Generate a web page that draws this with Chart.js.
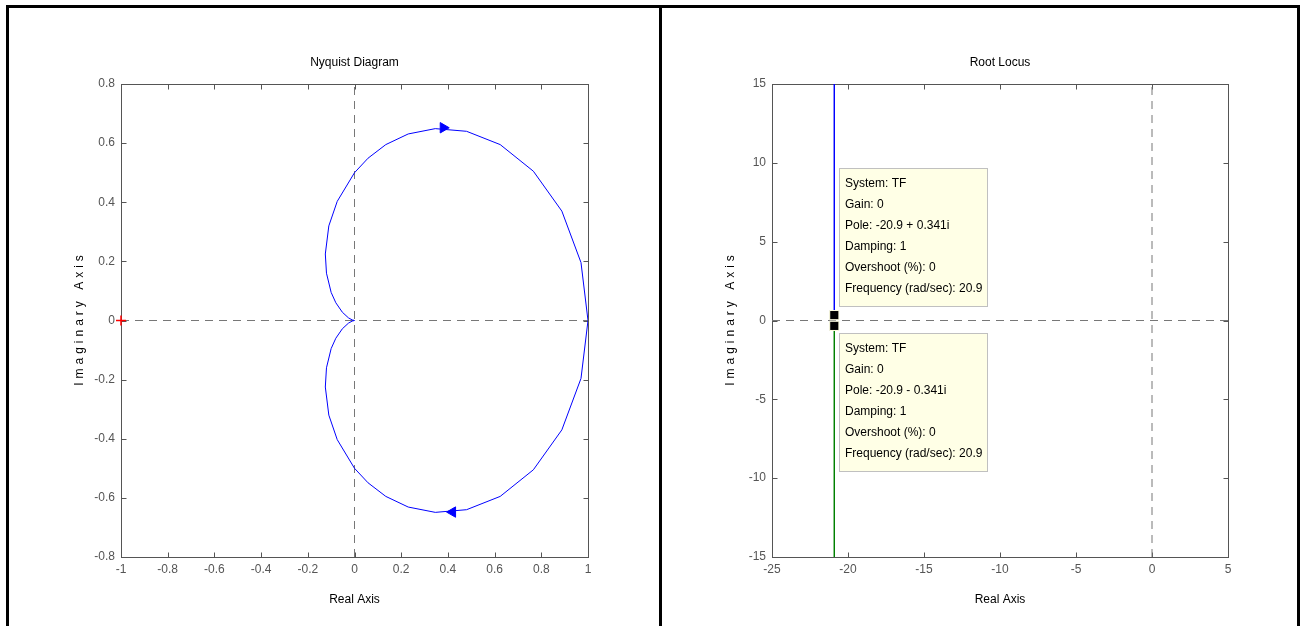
<!DOCTYPE html>
<html>
<head>
<meta charset="utf-8">
<script src="https://cdn.jsdelivr.net/npm/chart.js@4.4.1/dist/chart.umd.min.js"></script>
<style>
    body { margin: 0; background: #fff; width: 1302px; height: 626px; overflow: hidden; position: relative; }
    .frame { position: absolute; left: 6px; top: 5px; width: 1288px; height: 700px; border: 3px solid #000; z-index: 2; pointer-events: none; }
    .divider { position: absolute; left: 659px; top: 5px; width: 3px; height: 700px; background: #000; z-index: 2; }
    #leftBox { position: absolute; left: 0; top: 0; width: 661px; height: 626px; }
    #rightBox { position: absolute; left: 661px; top: 0; width: 641px; height: 626px; }
</style>
</head>
<body>
<div class="frame"></div>
<div class="divider"></div>
<div id="leftBox"><canvas id="nyquistChart"></canvas></div>
<div id="rightBox"><canvas id="locusChart"></canvas></div>
<script>
// Nyquist curve (real / imaginary parts)
const nyqReal = [0, -0.010, -0.026, -0.052, -0.080, -0.100, -0.120, -0.125, -0.110, -0.074, 0, 0.058, 0.134, 0.230, 0.346, 0.480, 0.624, 0.766, 0.888, 0.970, 1,
                 0.970, 0.888, 0.766, 0.624, 0.480, 0.346, 0.230, 0.134, 0.058, 0, -0.074, -0.110, -0.125, -0.120, -0.100, -0.080, -0.052, -0.026, -0.010, 0];
const nyqImag = [0, 0.002, 0.009, 0.028, 0.060, 0.095, 0.160, 0.225, 0.320, 0.403, 0.500, 0.549, 0.595, 0.631, 0.649, 0.640, 0.595, 0.505, 0.370, 0.196, 0,
                 -0.196, -0.370, -0.505, -0.595, -0.640, -0.649, -0.631, -0.595, -0.549, -0.500, -0.403, -0.320, -0.225, -0.160, -0.095, -0.060, -0.028, -0.009, -0.002, 0];
const arrowReal = [0.38, 0.42];
const arrowImag = [0.652, -0.648];
const arrowAngle = [90, 270];
const criticalReal = [-1];
const criticalImag = [0];
const nyqXTicks = [-1, -0.8, -0.6, -0.4, -0.2, 0, 0.2, 0.4, 0.6, 0.8, 1];
const nyqYTicks = [-0.8, -0.6, -0.4, -0.2, 0, 0.2, 0.4, 0.6, 0.8];

// Root locus
const locusReal = -20.9;
const poleImag = [0.341, -0.341];
const upperBranchImag = [15, 0.341];
const lowerBranchImag = [-0.341, -15];
const rlXTicks = [-25, -20, -15, -10, -5, 0, 5];
const rlYTicks = [-15, -10, -5, 0, 5, 10, 15];
const upperTip = ['System: TF', 'Gain: 0', 'Pole: -20.9 + 0.341i', 'Damping: 1', 'Overshoot (%): 0', 'Frequency (rad/sec): 20.9'];
const lowerTip = ['System: TF', 'Gain: 0', 'Pole: -20.9 - 0.341i', 'Damping: 1', 'Overshoot (%): 0', 'Frequency (rad/sec): 20.9'];

const FONT = "'Liberation Sans', Arial, sans-serif";
const pts = (xs, ys) => xs.map((v, i) => ({ x: v, y: ys[i] }));

// matlab style box with inward ticks (under the data) and the titles
const matlabAxes = {
    id: 'matlabAxes',
    beforeDatasetsDraw(chart) {
        const { ctx, chartArea: a, scales: { x, y } } = chart;
        ctx.save();
        ctx.strokeStyle = '#555';
        ctx.lineWidth = 1;
        const L = Math.round(a.left) + 0.5, R = Math.round(a.right) + 0.5;
        const T = Math.round(a.top) + 0.5, B = Math.round(a.bottom) + 0.5;
        ctx.strokeRect(L, T, R - L, B - T);
        ctx.beginPath();
        x.ticks.forEach(t => {
            const px = Math.round(x.getPixelForValue(t.value)) + 0.5;
            ctx.moveTo(px, B); ctx.lineTo(px, B - 5);
            ctx.moveTo(px, T); ctx.lineTo(px, T + 5);
        });
        y.ticks.forEach(t => {
            const py = Math.round(y.getPixelForValue(t.value)) + 0.5;
            ctx.moveTo(L, py); ctx.lineTo(L + 5, py);
            ctx.moveTo(R, py); ctx.lineTo(R - 5, py);
        });
        ctx.stroke();
        ctx.restore();
    },
    afterDraw(chart, args, opts) {
        const { ctx, chartArea: a } = chart;
        ctx.save();
        ctx.fillStyle = '#000';
        ctx.font = '12px ' + FONT;
        ctx.textAlign = 'center';
        ctx.textBaseline = 'middle';
        const cx = (a.left + a.right) / 2;
        ctx.fillText(opts.title, cx, a.top - 21);
        ctx.fillText(opts.xTitle, cx, a.bottom + 43);
        ctx.translate(a.left - 41, (a.top + a.bottom) / 2);
        ctx.rotate(-Math.PI / 2);
        ctx.letterSpacing = '4px';
        ctx.fillText(opts.yTitle, 2, 0);
        ctx.restore();
    }
};

// data tip boxes next to the poles
const dataTips = {
    id: 'dataTips',
    afterDraw(chart, args, opts) {
        if (!opts.tips) return;
        const { ctx, scales: { x, y } } = chart;
        ctx.save();
        ctx.font = '12px ' + FONT;
        ctx.textAlign = 'left';
        ctx.textBaseline = 'middle';
        opts.tips.forEach(tip => {
            const px = Math.round(x.getPixelForValue(tip.x));
            const py = Math.round(y.getPixelForValue(tip.y));
            const w = 149, h = 139;
            const left = px + 5;
            const top = tip.above ? py - 8 - h : py + 7;
            ctx.fillStyle = '#ffffe6';
            ctx.fillRect(left, top, w, h);
            ctx.strokeStyle = '#c0c0c0';
            ctx.strokeRect(left + 0.5, top + 0.5, w - 1, h - 1);
            ctx.fillStyle = '#000';
            tip.lines.forEach((s, k) => ctx.fillText(s, left + 6, top + 16 + k * 21));
        });
        ctx.restore();
    }
};

const makeScales = (xMin, xMax, xTicks, yMin, yMax, yTicks, yWidth) => ({
    x: {
        type: 'linear', min: xMin, max: xMax,
        afterBuildTicks: s => { s.ticks = xTicks.map(v => ({ value: v })); },
        afterFit: s => { s.height = 69; },
        grid: { display: false, drawTicks: false },
        border: { display: false },
        ticks: { color: '#555', font: { family: FONT, size: 12 }, padding: 5, maxRotation: 0, autoSkip: false, callback: v => String(v) }
    },
    y: {
        type: 'linear', min: yMin, max: yMax,
        afterBuildTicks: s => { s.ticks = yTicks.map(v => ({ value: v })); },
        afterFit: s => { s.width = yWidth; },
        grid: { display: false, drawTicks: false },
        border: { display: false },
        ticks: { color: '#555', font: { family: FONT, size: 12 }, padding: 6, autoSkip: false, callback: v => String(v) }
    }
});

const baseOptions = {
    responsive: true,
    maintainAspectRatio: false,
    animation: false,
    elements: { point: { radius: 0 }, line: { tension: 0 } }
};

new Chart(document.getElementById('nyquistChart'), {
    type: 'scatter',
    data: {
        datasets: [
            {
                data: pts(arrowReal, arrowImag),
                pointStyle: 'triangle',
                pointRadius: 6,
                rotation: arrowAngle,
                backgroundColor: '#0000ff',
                borderColor: '#0000ff',
                borderWidth: 1
            },
            {
                data: pts(criticalReal, criticalImag),
                pointStyle: 'cross',
                pointRadius: 5,
                borderColor: '#ff0000',
                borderWidth: 1.5,
                clip: 10
            },
            {
                data: pts(nyqReal, nyqImag),
                showLine: true,
                borderColor: '#0000ff',
                borderWidth: 1,
                pointRadius: 0
            },
            {
                data: pts([nyqXTicks[0], nyqXTicks[nyqXTicks.length - 1]], [0, 0]),
                showLine: true, borderColor: '#777', borderWidth: 1, borderDash: [8, 6], pointRadius: 0
            },
            {
                data: pts([0, 0], [nyqYTicks[0], nyqYTicks[nyqYTicks.length - 1]]),
                showLine: true, borderColor: '#777', borderWidth: 1, borderDash: [8, 6], pointRadius: 0
            }
        ]
    },
    options: {
        ...baseOptions,
        layout: { padding: { top: 84, right: 73, left: 0, bottom: 0 } },
        scales: makeScales(-1, 1, nyqXTicks, -0.8, 0.8, nyqYTicks, 121),
        plugins: {
            legend: { display: false },
            tooltip: { enabled: false },
            matlabAxes: { title: 'Nyquist Diagram', xTitle: 'Real Axis', yTitle: 'Imaginary Axis' }
        }
    },
    plugins: [matlabAxes]
});

new Chart(document.getElementById('locusChart'), {
    type: 'scatter',
    data: {
        datasets: [
            {
                data: pts([locusReal, locusReal], poleImag),
                pointStyle: 'rect',
                pointRadius: 6.5,
                backgroundColor: '#000',
                borderColor: '#ffffe1',
                borderWidth: 1
            },
            {
                data: pts([locusReal, locusReal], upperBranchImag),
                showLine: true, borderColor: '#0000ff', borderWidth: 1, pointRadius: 0
            },
            {
                data: pts([locusReal, locusReal], lowerBranchImag),
                showLine: true, borderColor: '#008000', borderWidth: 1, pointRadius: 0
            },
            {
                data: pts([rlXTicks[0], rlXTicks[rlXTicks.length - 1]], [0, 0]),
                showLine: true, borderColor: '#777', borderWidth: 1, borderDash: [8, 6], pointRadius: 0
            },
            {
                data: pts([0, 0], [rlYTicks[0], rlYTicks[rlYTicks.length - 1]]),
                showLine: true, borderColor: '#777', borderWidth: 1, borderDash: [8, 6], pointRadius: 0
            }
        ]
    },
    options: {
        ...baseOptions,
        layout: { padding: { top: 84, right: 74, left: 0, bottom: 0 } },
        scales: makeScales(-25, 5, rlXTicks, -15, 15, rlYTicks, 111),
        plugins: {
            legend: { display: false },
            tooltip: { enabled: false },
            matlabAxes: { title: 'Root Locus', xTitle: 'Real Axis', yTitle: 'Imaginary Axis' },
            dataTips: {
                tips: [
                    { x: locusReal, y: poleImag[0], above: true, lines: upperTip },
                    { x: locusReal, y: poleImag[1], above: false, lines: lowerTip }
                ]
            }
        }
    },
    plugins: [matlabAxes, dataTips]
});
</script>
</body>
</html>
